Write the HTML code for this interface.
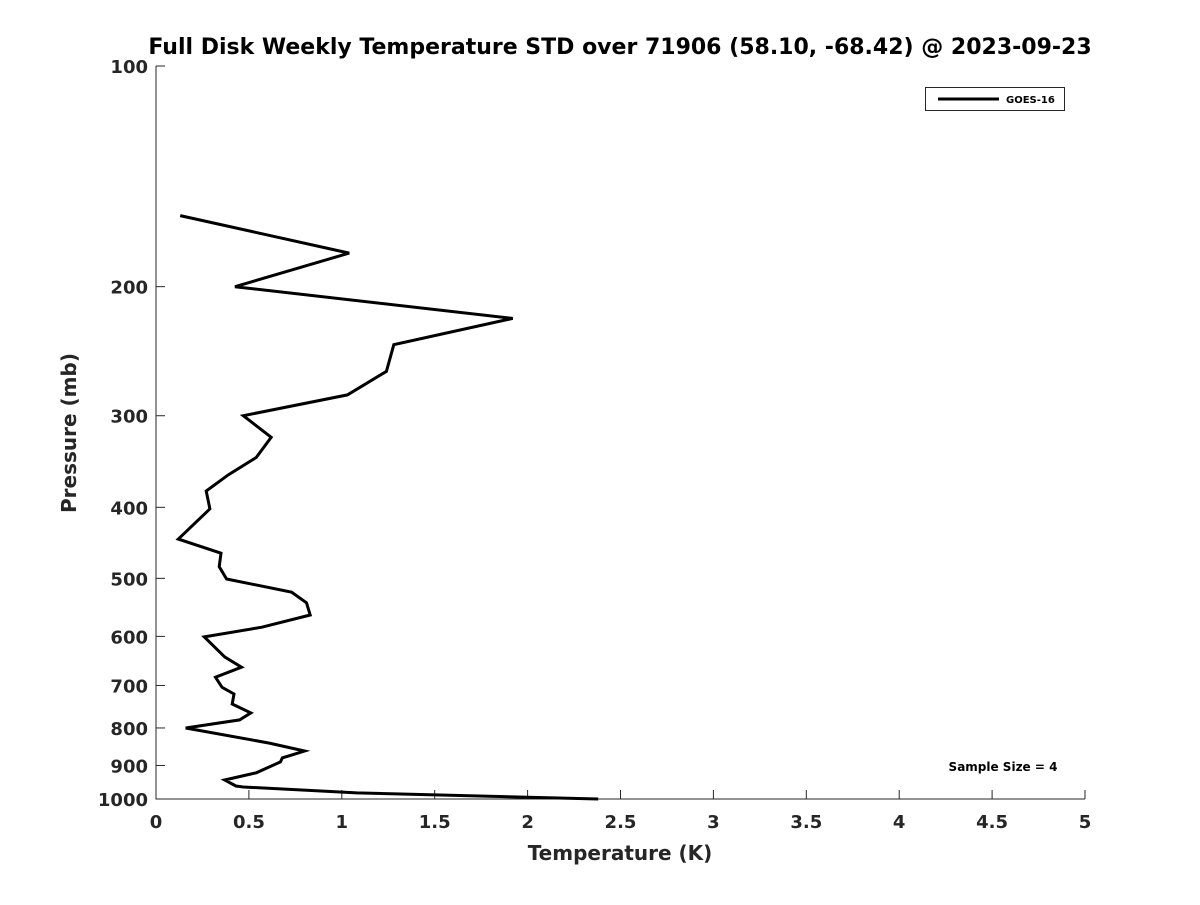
<!DOCTYPE html>
<html><head><meta charset="utf-8"><style>
body{margin:0;background:#fff;}
svg text{font-family:"DejaVu Sans","Liberation Sans",sans-serif;font-weight:bold;fill:#262626;}
</style></head><body>
<svg id="chart" width="1200" height="900">
<rect width="1200" height="900" fill="#fff"/>
<text x="620" y="54" font-size="22" text-anchor="middle" fill="#000" style="fill:#000">Full Disk Weekly Temperature STD over 71906 (58.10, -68.42) @ 2023-09-23</text>
<g id="axes"></g>
<text x="620" y="860" font-size="20" text-anchor="middle">Temperature (K)</text>
<text transform="translate(76,433) rotate(-90)" font-size="20" text-anchor="middle">Pressure (mb)</text>
<g>
<rect x="925.5" y="87.5" width="139" height="23" fill="#fff" stroke="#262626" stroke-width="1"/>
<line x1="938" y1="99" x2="999" y2="99" stroke="#000" stroke-width="3"/>
<text x="1006" y="103" font-size="10" style="fill:#000">GOES-16</text>
</g>
<text x="1003" y="771" font-size="12" text-anchor="middle" style="fill:#000">Sample Size = 4</text>
</svg>
<script>
const temps=[0.13,1.04,0.425,1.92,1.28,1.24,1.03,0.47,0.62,0.54,0.39,0.27,0.29,0.12,0.35,0.34,0.38,0.73,0.81,0.83,0.57,0.26,0.37,0.46,0.32,0.355,0.42,0.41,0.51,0.45,0.16,0.61,0.80,0.68,0.67,0.54,0.37,0.43,0.47,1.08,2.38];
const pressures=[160,180,200,221,240,261,281,300,321,342,361,380,402,442,462,482,501,522,540,561,583,601,640,661,682,704,719,742,763,780,800,839,860,879,890,921,942,960,963,981,1000];
const xTicks=[0,0.5,1,1.5,2,2.5,3,3.5,4,4.5,5];
const xTickLabels=["0","0.5","1","1.5","2","2.5","3","3.5","4","4.5","5"];
const yTicks=[100,200,300,400,500,600,700,800,900,1000];
const X0=156,X1=1085,Y0=66,Y1=799;
const xs=v=>X0+(v-0)/(5-0)*(X1-X0);
const ys=p=>Y0+(Math.log10(p)-2)*(Y1-Y0);
const NS="http://www.w3.org/2000/svg";
const svg=document.getElementById('chart');
const g=document.getElementById('axes');
function mk(t,a,parent){const e=document.createElementNS(NS,t);for(const k in a)e.setAttribute(k,a[k]);(parent||g).appendChild(e);return e;}
const ax=mk('path',{d:`M${X0},${Y0}V${Y1}H${X1}`,fill:'none',stroke:'#262626','stroke-width':1});


xTicks.forEach((v,i)=>{
 const x=xs(v);
 const l=mk('line',{x1:x,x2:x,y1:Y1,y2:Y1-9,stroke:'#262626'});
 
 
 const t=mk('text',{x:x,y:Y1+29,'font-size':18,'text-anchor':'middle'});
 t.textContent=xTickLabels[i];
 
 
});
yTicks.forEach(p=>{
 const y=ys(p);
 const l=mk('line',{x1:X0,x2:X0+9,y1:y,y2:y,stroke:'#262626'});
 
 
 const t=mk('text',{x:X0-8,y:y+7,'font-size':18,'text-anchor':'end'});
 t.textContent=String(p);
 
 
});
const d=temps.map((v,i)=>(i?'L':'M')+xs(v).toFixed(1)+','+ys(pressures[i]).toFixed(1)).join('');
const line=mk('path',{d:d,fill:'none',stroke:'#000','stroke-width':3,'stroke-linejoin':'miter'});


</script>
</body></html>
